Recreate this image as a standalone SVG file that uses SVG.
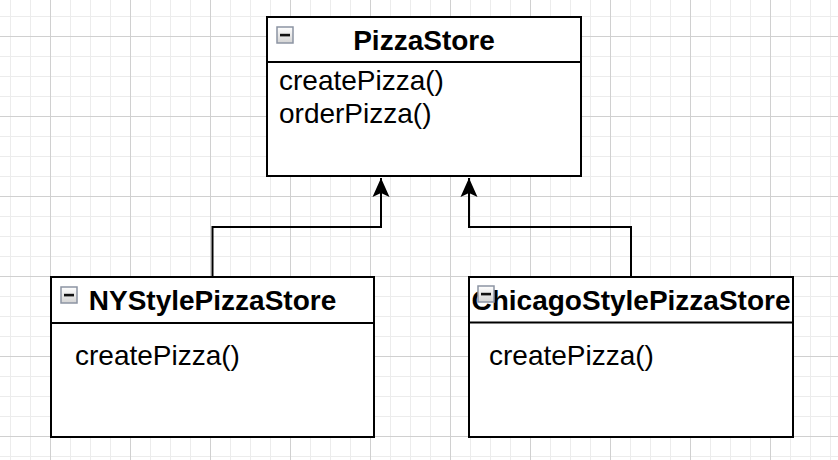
<svg xmlns="http://www.w3.org/2000/svg" width="838" height="460" viewBox="0 0 838 460">
<defs>
<pattern id="minor" width="20" height="20" patternUnits="userSpaceOnUse" x="10" y="16">
<path d="M0,0 H20 M0,0 V20" stroke="#ececec" stroke-width="2" fill="none"/>
</pattern>
<pattern id="major" width="80" height="80" patternUnits="userSpaceOnUse" x="50" y="36">
<path d="M0,0.5 H80 M0.5,0 V80" stroke="#d0d0d0" stroke-width="1" fill="none"/>
</pattern>
<linearGradient id="ig" x1="0" y1="0" x2="0" y2="1">
<stop offset="0" stop-color="#ffffff"/>
<stop offset="1" stop-color="#d4d4d4"/>
</linearGradient>
<marker id="arr" markerUnits="userSpaceOnUse" viewBox="0 0 19 18" markerWidth="19" markerHeight="18" refX="19" refY="9" orient="auto">
<path d="M19,9 L0,0.5 L4,9 L0,17.5 Z" fill="#000"/>
</marker>
</defs>
<style>
.box{fill:#fff;stroke:#000;stroke-width:2}
.div{stroke:#000;stroke-width:2}
.hdr{font-family:"Liberation Sans",Arial,sans-serif;font-size:28px;font-weight:bold;fill:#000;text-anchor:middle}
.op{font-family:"Liberation Sans",Arial,sans-serif;font-size:28px;fill:#000}
.icon{fill:url(#ig);stroke:#8c94a3;stroke-width:1.5}
.bar{fill:#111}
.edge{fill:none;stroke:#000;stroke-width:2;marker-end:url(#arr)}
</style>
<rect width="838" height="460" fill="#fff"/>
<rect width="838" height="460" fill="url(#minor)"/>
<rect width="838" height="460" fill="url(#major)"/>

<g id="connectors">
<path class="edge" d="M212.5,277 V227 H381 V178"/>
<path class="edge" d="M631,277 V227 H469 V178"/>
</g>

<g id="PizzaStore">
<rect class="box" x="267" y="17" width="314" height="159"/>
<line class="div" x1="267" y1="62" x2="581" y2="62"/>
<text class="hdr" x="424" y="50">PizzaStore</text>
<text class="op" x="279" y="90">createPizza()</text>
<text class="op" x="279" y="123">orderPizza()</text>
<rect class="icon" x="277" y="27" width="16" height="16"/>
<rect class="bar" x="280" y="33.8" width="10" height="2.6"/>
</g>

<g id="NYStylePizzaStore">
<rect class="box" x="51" y="277" width="323" height="160"/>
<line class="div" x1="51" y1="323" x2="374" y2="323"/>
<text class="hdr" x="212.5" y="310">NYStylePizzaStore</text>
<text class="op" x="75" y="365">createPizza()</text>
<rect class="icon" x="61" y="287" width="16" height="16"/>
<rect class="bar" x="64" y="293.8" width="10" height="2.6"/>
</g>

<g id="ChicagoStylePizzaStore">
<rect class="box" x="469" y="277" width="324" height="160"/>
<line class="div" x1="469" y1="322.5" x2="793" y2="322.5"/>
<text class="hdr" x="631" y="310">ChicagoStylePizzaStore</text>
<text class="op" x="489" y="365">createPizza()</text>
<rect class="icon" x="478" y="286" width="16" height="16"/>
<rect class="bar" x="481" y="292.8" width="10" height="2.6"/>
</g>
</svg>
